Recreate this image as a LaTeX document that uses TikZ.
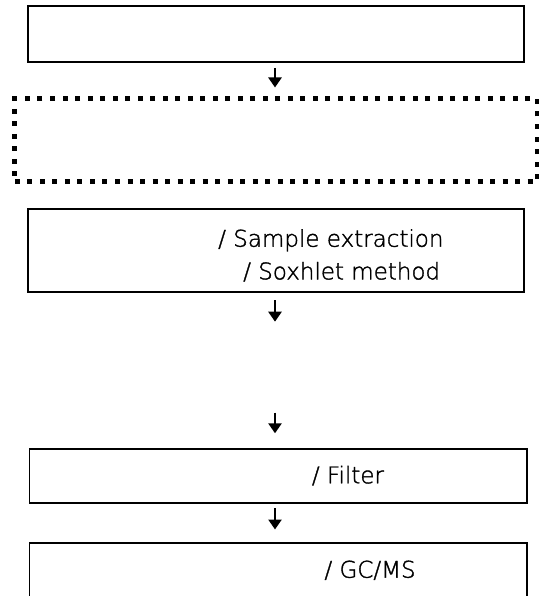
\documentclass[tikz,border=0pt]{standalone}
\usepackage{fontspec}
\newfontfamily\lightfont{DejaVu Sans ExtraLight}[FakeBold=1.5]
\usetikzlibrary{arrows.meta}
\begin{document}
\begin{tikzpicture}[x=1bp,y=-1bp,
  box/.style={draw,line width=1.8bp,rectangle,inner sep=0pt,outer sep=0pt},
  dotbox/.style={draw,line width=5bp,dash pattern=on 5bp off 7.5bp,rectangle,inner sep=0pt,outer sep=0pt},
  lbl/.style={font=\lightfont\fontsize{23bp}{28bp}\selectfont,inner sep=0pt,anchor=base west},
  flow/.style={line width=2.5bp,-{Triangle[width=13bp,length=10bp]}}
]
\useasboundingbox (0,0) rectangle (539,596);
\clip (0,0) rectangle (539,596);
\coordinate (ax) at (275,0);
\node[box,minimum width=496.6bp,minimum height=56.6bp] (b1) at (276,34) {};
\node[dotbox,minimum width=522.5bp,minimum height=82.5bp] (b2) at (276.25,140.25) {};
\node[box,minimum width=496.6bp,minimum height=83bp] (b3) at (276,250.2) {};
\node[box,minimum width=497.2bp,minimum height=54bp] (b4) at (278.1,475.7) {};
\node[box,minimum width=497.2bp,minimum height=80bp] (b5) at (278.1,583.3) {};
\node[lbl] (t3a) at (218,246.7) {/ Sample extraction};
\node[lbl] (t3b) at (243,279.4) {/ Soxhlet method};
\node[lbl] (t4) at (311.7,483.3) {/ Filter};
\node[lbl] (t5) at (324.3,577.7) {/ GC/MS};
\coordinate (c1) at (275,321.7);
\coordinate (c2) at (275,412.7);
\draw[flow,shorten <=5.7bp,shorten >=11.5bp] (b1.south -| ax) -- (b2.north -| ax);
\draw[flow,shorten <=8.3bp] (b3.south -| ax) -- (c1);
\draw[flow,shorten >=15.4bp] (c2) -- (b4.north -| ax);
\draw[flow,shorten <=5.6bp,shorten >=13.8bp] (b4.south -| ax) -- (b5.north -| ax);
\end{tikzpicture}
\end{document}
